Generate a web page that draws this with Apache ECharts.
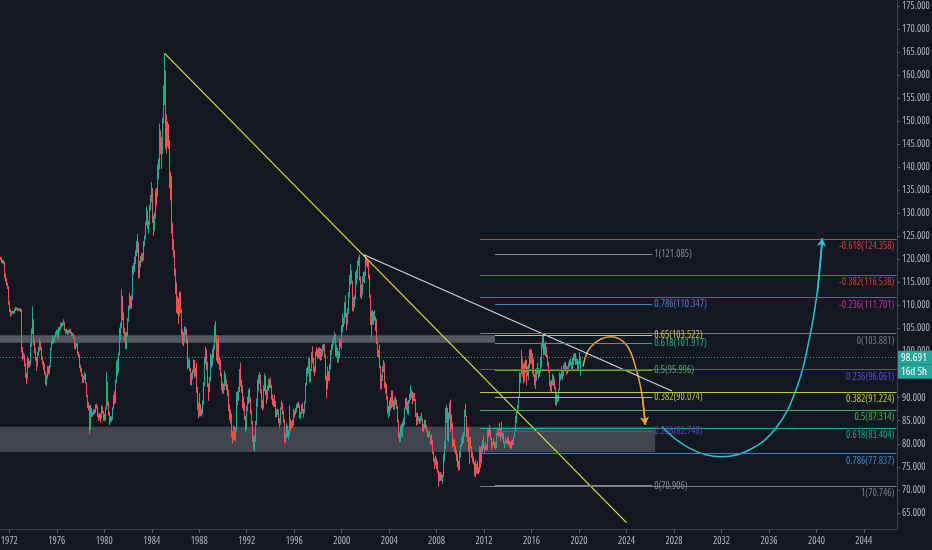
<!DOCTYPE html>
<html><head><meta charset="utf-8">
<script src="https://cdn.jsdelivr.net/npm/echarts@6/dist/echarts.min.js"></script>
<style>html,body{margin:0;padding:0;background:#131722;}#c{width:932px;height:550px;}</style>
</head><body><div id="c"></div>
<script>
// ---------- DATA (monthly candles, Jan 1971 .. Mar 2020) ----------
const firstYear = 1971;
const lastCategory = '2046-10';
const firstOpen = 120.6;
const closes = [
120.5,120.3,120.4,120.3,119.5,119.6,119.3,116.6,115.6,114.7,114.0,110.7,
108.9,108.0,108.6,108.6,108.5,108.9,109.4,109.3,109.1,109.1,109.1,109.1,
109.0,100.5,98.8,99.2,97.3,95.0,94.1,98.2,97.5,97.3,101.5,104.0,
106.8,102.0,100.6,98.5,97.0,99.5,100.3,102.0,100.9,98.6,97.8,97.0,
95.5,93.2,94.5,96.5,95.5,96.7,100.5,101.8,103.0,102.1,103.3,104.0,
104.4,103.2,105.0,104.8,105.8,105.7,105.9,106.3,104.8,104.3,104.6,104.0,
104.4,104.6,104.0,103.7,103.7,103.0,100.8,101.5,101.6,99.6,99.3,96.8,
96.3,95.0,93.7,94.0,95.1,93.3,90.5,88.2,88.0,83.5,87.4,86.5,
86.5,87.0,86.8,88.2,88.0,86.0,85.6,86.2,85.6,87.9,86.9,85.4,
85.4,87.6,93.0,89.0,86.7,84.8,84.7,85.5,85.3,87.6,90.2,89.1,
93.4,96.9,96.2,99.6,104.4,105.2,110.0,108.4,104.6,104.0,101.4,103.8,
106.8,109.5,111.5,110.2,111.6,117.7,118.0,119.6,121.3,122.8,123.5,116.5,
118.9,120.0,120.8,120.2,123.4,124.7,127.6,130.2,127.2,127.8,131.4,133.0,
135.0,128.4,126.4,129.4,134.5,134.0,140.0,140.0,147.6,145.3,143.3,150.2,
155.0,158.0,151.0,146.8,148.8,145.4,136.0,135.4,126.4,123.7,121.4,117.0,
114.5,111.0,110.7,108.3,111.9,109.0,104.1,103.0,102.4,103.8,104.6,102.5,
97.0,97.9,96.3,93.3,94.0,95.5,97.7,95.0,95.9,92.0,88.0,86.6,
90.0,88.4,86.7,86.7,88.9,92.9,98.5,99.0,97.5,92.7,91.4,93.9,
99.0,97.3,100.0,100.6,104.9,103.0,98.6,101.4,98.0,97.8,95.0,92.3,
92.0,92.2,94.1,93.4,92.2,91.5,87.6,86.4,85.8,81.8,81.4,83.0,
81.8,83.0,89.7,90.4,91.6,95.0,93.1,92.4,88.4,88.3,85.7,83.2,
87.6,89.4,91.2,89.9,87.0,84.7,81.1,79.5,80.8,84.6,89.0,92.4,
93.5,94.8,91.7,88.5,88.4,92.0,94.5,91.4,90.0,92.1,93.6,93.2,
92.7,90.4,88.9,89.2,89.1,86.2,86.8,87.3,85.1,84.4,87.5,88.7,
86.9,85.0,81.3,81.5,83.6,82.0,82.3,87.5,84.8,83.8,84.3,84.1,
86.9,86.6,87.4,88.0,88.7,88.2,85.8,86.5,88.0,87.0,86.8,88.9,
92.9,95.3,95.5,98.2,93.8,96.0,99.7,98.5,96.0,95.8,99.7,99.6,
99.9,99.0,100.4,98.6,100.0,100.6,101.5,99.0,94.4,92.0,95.5,94.2,
96.5,100.0,100.9,102.0,102.5,103.6,99.5,100.6,99.0,99.4,102.3,101.9,
105.2,106.6,106.4,110.2,108.2,106.0,108.7,112.6,115.5,117.4,115.3,109.1,
110.1,111.6,116.3,116.6,119.5,119.6,115.9,112.7,113.1,115.9,116.0,116.9,
120.2,119.5,119.2,116.5,112.4,106.4,107.6,107.7,107.5,107.5,106.6,102.0,
99.6,99.4,99.2,96.9,92.1,94.7,95.8,97.4,92.5,92.3,90.2,86.9,
87.4,88.1,88.0,90.2,88.7,88.7,89.7,89.2,87.9,85.1,81.7,80.9,
83.5,82.0,84.3,84.7,87.7,89.2,88.0,86.9,89.2,89.9,91.4,91.2,
89.4,90.6,89.6,86.1,85.2,85.4,85.4,84.8,85.8,85.3,83.1,83.7,
84.8,83.6,82.9,81.6,82.3,81.7,80.3,80.8,78.0,76.5,75.8,76.7,
75.2,74.1,71.8,73.4,72.8,72.5,72.9,77.1,79.3,85.4,86.6,81.3,
86.2,88.5,85.4,84.4,80.0,80.2,78.6,78.3,76.7,76.3,74.8,77.9,
79.5,80.4,81.1,81.8,86.3,86.0,81.6,83.0,78.5,77.1,81.2,79.0,
77.2,76.6,75.9,73.0,74.6,74.3,74.4,74.2,78.6,76.3,78.5,80.2,
79.0,78.6,79.0,78.8,83.0,81.7,82.5,81.2,79.9,79.8,80.1,79.8,
79.2,82.2,83.1,81.8,83.3,83.1,81.5,82.1,80.2,80.2,80.7,80.2,
81.3,79.7,80.1,79.5,80.4,79.8,81.5,82.7,86.0,86.9,88.4,90.3,
94.8,95.3,98.4,94.6,96.9,95.5,97.3,95.8,96.4,96.9,100.2,98.6,
99.6,98.2,94.6,93.1,95.9,96.1,95.5,96.0,95.4,98.4,101.5,102.2,
99.5,101.1,100.4,99.1,97.0,95.6,92.9,92.7,93.1,94.5,93.0,92.1,
89.1,90.6,89.97,91.8,94.0,94.5,94.5,95.1,95.1,97.1,97.3,96.2,
95.6,96.2,97.3,97.5,97.7,96.1,98.5,98.9,99.4,97.3,98.3,96.4,
97.4,98.1,98.691
];
const highs = [
121.0,120.8,120.7,120.6,120.5,119.9,119.9,119.5,117.0,115.9,115.0,114.2,
110.9,109.2,108.8,108.9,108.8,109.3,109.7,109.6,109.5,109.4,109.3,109.4,
109.4,109.2,101.0,99.8,99.4,97.5,95.4,99.0,98.6,98.0,102.0,105.0,
109.8,107.0,102.6,100.8,98.8,100.0,101.0,102.8,102.2,101.0,99.0,98.0,
97.4,95.7,95.0,96.9,96.8,97.0,100.8,102.3,103.5,103.1,103.6,104.3,
104.8,104.6,105.3,105.4,106.3,106.2,106.3,107.0,106.4,104.9,105.0,104.7,
104.7,104.9,104.8,104.3,104.1,103.9,103.2,101.9,101.9,101.8,100.0,99.4,
97.2,96.5,95.2,94.8,95.5,95.3,93.4,90.6,89.0,88.4,88.5,87.8,
87.0,87.4,87.5,88.6,88.7,88.2,86.5,86.6,86.6,88.4,88.1,87.1,
86.5,88.0,95.5,93.4,89.2,86.9,85.6,86.0,85.9,87.9,90.6,91.4,
93.9,97.9,98.4,99.8,105.2,106.3,113.5,112.0,108.5,105.2,104.2,104.3,
107.3,110.0,112.7,112.0,112.2,118.6,119.2,120.6,122.0,124.0,125.5,123.7,
119.7,120.8,121.3,121.4,124.0,125.2,128.2,131.5,130.6,128.5,131.9,134.0,
136.8,135.5,129.6,130.2,135.2,135.5,140.6,141.9,149.5,148.0,146.5,150.8,
157.8,164.72,161.0,151.5,150.0,149.4,146.0,139.0,138.2,128.0,124.4,122.0,
118.0,115.0,112.0,111.6,113.0,113.0,109.2,104.8,104.2,105.4,105.5,104.9,
102.8,98.6,98.3,96.5,95.4,96.0,98.3,98.2,96.6,97.5,92.3,89.0,
91.0,90.4,88.6,87.6,89.4,93.4,98.9,101.0,100.5,97.8,93.1,94.5,
99.6,99.3,100.6,101.3,105.8,106.6,103.6,102.7,103.4,98.9,98.3,95.3,
93.4,93.0,95.8,95.2,94.0,92.9,91.8,88.6,87.4,86.5,82.7,84.0,
83.7,83.6,91.2,91.4,92.4,96.2,97.6,94.0,92.6,90.2,88.9,86.0,
88.2,90.2,91.8,92.1,90.0,87.3,84.9,81.6,81.9,85.0,89.8,94.0,
94.9,95.6,95.0,91.9,89.6,92.7,95.3,94.8,91.8,92.6,94.1,94.0,
94.4,92.8,90.7,89.8,90.6,89.3,87.5,87.6,87.4,85.5,87.9,89.4,
88.9,87.2,85.3,82.2,84.5,83.9,82.9,88.3,88.1,85.4,84.9,85.2,
87.6,87.2,87.8,88.6,89.0,89.1,88.5,86.9,88.5,88.9,87.6,89.2,
93.2,96.4,96.8,98.7,98.5,96.2,99.9,101.2,98.7,96.8,100.0,101.0,
100.6,100.8,101.0,100.8,100.5,101.4,101.7,101.6,99.4,94.8,96.8,95.8,
97.3,100.4,101.6,102.6,103.3,104.3,103.8,101.4,100.8,100.1,102.8,102.5,
105.7,108.2,107.4,110.7,112.2,108.4,109.4,112.9,116.6,119.0,117.6,115.4,
111.8,112.2,117.3,117.8,119.8,120.5,121.02,116.3,114.6,116.4,117.3,117.4,
120.9,120.5,120.1,119.6,116.8,112.4,108.8,109.0,108.6,109.0,107.6,107.0,
102.4,100.4,101.5,99.3,97.0,95.0,96.8,98.2,97.6,93.4,93.0,90.3,
88.2,89.4,90.1,91.6,91.6,89.4,89.9,90.3,89.5,88.2,85.2,82.4,
84.0,84.3,84.8,85.6,87.9,89.9,90.0,89.2,89.5,90.9,92.63,91.8,
91.3,91.1,91.0,89.7,86.7,86.8,86.0,85.6,86.0,86.8,85.5,84.2,
85.2,85.2,84.1,83.0,82.6,82.8,81.8,82.1,80.9,78.3,76.8,77.4,
77.0,76.2,74.3,73.8,73.9,73.5,73.3,77.8,80.5,87.8,88.46,87.8,
86.8,89.0,89.6,86.3,84.6,81.0,80.9,79.6,78.7,77.9,76.3,78.4,
79.8,81.3,82.0,82.6,87.4,88.7,86.1,83.6,83.6,79.2,81.4,81.5,
79.5,78.2,77.2,76.0,76.5,75.7,76.3,74.9,79.5,79.3,79.7,80.8,
81.8,79.6,80.4,79.8,83.2,83.2,84.1,83.0,81.3,80.4,81.2,80.5,
80.3,82.3,83.2,83.2,84.5,83.4,84.75,82.4,82.4,80.6,81.4,81.0,
81.5,81.5,80.7,80.4,80.7,80.9,81.6,82.9,86.1,86.9,88.4,90.3,
95.5,95.4,100.4,98.4,97.4,97.8,98.2,98.3,96.8,97.3,100.5,100.5,
100.5,99.7,98.5,95.1,95.9,96.4,97.6,96.4,96.2,98.7,102.0,103.6,
103.82,101.8,102.2,101.0,99.3,97.8,96.0,93.6,93.9,95.2,94.8,94.2,
92.3,91.0,90.6,91.9,95.0,95.5,95.2,96.9,95.7,97.2,97.7,97.7,
96.9,96.8,97.7,98.3,98.4,97.8,98.7,99.4,99.7,99.67,98.5,98.4,
98.0,99.9,99.0
];
const lows = [
120.1,120.0,120.0,119.9,119.2,119.2,118.9,116.0,115.2,114.3,113.6,110.2,
108.5,107.6,107.8,108.3,108.2,108.2,108.8,109.0,108.8,108.8,108.8,108.8,
108.6,99.8,98.0,98.4,96.8,94.3,93.0,94.0,96.5,96.6,97.0,101.0,
103.8,101.3,99.6,98.0,95.8,96.8,99.0,100.0,100.3,98.2,97.0,96.0,
95.0,92.8,92.5,94.2,95.0,95.2,96.6,100.3,101.6,101.8,102.0,103.0,
103.6,102.8,103.0,104.4,104.6,105.3,105.5,105.7,104.5,103.8,104.0,103.6,
103.7,104.0,103.8,103.3,103.2,102.8,100.6,100.5,101.0,99.3,98.8,96.4,
95.5,94.6,93.2,93.2,93.8,93.1,90.2,87.8,87.2,82.1,83.0,85.8,
85.9,86.3,86.4,86.7,87.6,85.8,84.9,85.3,84.6,85.5,86.6,85.0,
84.9,85.1,87.4,88.2,86.2,84.2,84.1,84.6,84.8,85.2,87.5,88.6,
88.8,93.2,94.8,95.4,99.2,102.5,105.0,106.8,103.9,102.1,100.6,100.5,
103.3,106.4,109.0,109.4,109.3,111.2,116.7,117.3,119.0,120.7,121.4,115.8,
116.0,118.3,119.5,119.5,119.8,122.9,124.4,127.4,126.6,125.6,127.5,130.6,
132.4,127.9,125.1,126.1,128.9,131.7,133.6,137.4,139.5,142.8,139.6,142.9,
149.5,153.5,144.0,143.0,144.5,144.0,135.4,132.8,125.6,122.0,120.4,116.5,
112.5,108.4,108.0,106.0,107.6,108.3,103.6,101.5,101.2,102.0,103.6,101.8,
96.2,96.4,95.8,92.8,92.6,93.9,95.3,94.3,94.6,91.0,87.3,85.6,
85.9,87.8,86.0,85.9,86.4,88.4,92.5,97.2,96.0,92.3,89.3,91.2,
93.6,96.5,96.9,98.7,100.4,102.0,98.0,97.5,97.2,96.0,94.6,91.6,
90.8,90.9,91.7,92.5,91.6,90.4,87.1,85.1,84.5,81.4,80.1,80.8,
80.7,80.6,82.6,88.3,89.3,91.2,92.4,91.0,87.7,87.1,85.1,82.6,
82.9,87.0,88.6,89.0,86.4,84.2,80.4,78.7,78.19,80.4,84.0,88.0,
91.4,93.0,90.9,87.7,87.2,87.6,91.4,90.6,88.7,89.6,91.5,92.1,
92.0,89.6,88.4,88.0,88.0,85.7,85.8,86.3,84.5,83.4,84.1,87.4,
86.3,84.5,80.3,80.05,81.2,81.5,81.0,81.8,84.3,82.8,83.3,83.5,
84.0,85.7,86.3,86.8,87.7,87.8,85.5,85.5,86.4,86.6,85.7,86.6,
88.8,92.6,94.6,95.2,93.3,93.4,95.8,97.5,95.5,94.7,95.5,99.0,
98.5,98.5,98.4,98.0,98.2,99.0,100.1,98.7,93.8,89.9,91.8,93.6,
93.6,96.0,99.3,100.4,101.4,101.9,99.0,98.9,97.5,97.7,98.6,100.9,
100.5,104.2,105.3,106.0,107.4,104.6,105.7,108.2,111.7,114.4,114.8,108.7,
108.8,109.6,111.3,114.5,115.8,118.6,115.4,111.7,111.3,112.4,115.1,114.8,
116.4,118.6,118.2,115.8,111.6,105.8,102.8,105.8,105.8,106.7,104.5,101.6,
98.9,98.7,98.3,96.4,91.8,91.8,93.6,95.6,92.1,90.9,89.6,86.6,
85.6,86.0,87.2,87.7,88.0,87.4,87.4,88.4,87.6,84.7,81.2,80.39,
80.4,81.6,81.4,83.5,84.1,87.6,87.2,86.4,86.3,88.8,89.5,89.9,
88.6,89.3,89.2,85.8,84.0,84.2,84.9,84.3,84.5,85.0,82.7,82.5,
83.3,83.2,82.5,81.3,81.4,81.5,79.8,79.8,77.8,76.1,74.5,75.4,
74.5,73.7,70.7,71.8,72.0,71.9,71.3,72.8,76.1,78.9,84.5,80.7,
80.3,85.3,82.6,83.1,79.1,79.4,78.2,77.7,76.3,74.9,74.2,74.3,
77.1,79.3,79.8,80.1,81.6,85.8,81.4,80.4,78.4,75.6,75.6,78.9,
76.9,75.9,75.5,72.9,72.7,73.5,73.4,73.4,73.8,74.8,75.9,78.2,
78.9,77.9,78.5,78.6,78.6,81.4,81.7,80.9,78.6,79.3,79.7,79.0,
78.9,79.1,81.8,81.4,81.6,80.5,81.4,81.0,80.0,79.0,80.2,79.8,
79.9,79.6,79.3,78.9,78.9,79.7,79.8,81.4,82.6,84.5,86.8,87.6,
90.0,93.2,95.1,94.5,93.1,93.5,95.4,92.6,94.6,93.8,96.4,97.2,
97.4,95.2,94.5,92.6,91.9,93.6,95.1,94.1,94.5,95.3,96.6,100.6,
99.2,99.2,99.0,98.8,96.8,95.5,92.5,91.4,91.0,92.7,92.5,91.8,
88.4,88.25,88.9,89.2,91.6,93.2,93.7,94.1,93.8,94.8,95.7,96.0,
95.0,95.2,95.7,96.7,97.0,95.8,95.8,97.1,98.0,97.1,97.2,96.2,
95.8,97.3,94.65
];

// Axis tick labels
const yTicks = [65,70,75,80,85,90,95,100,105,110,115,120,125,130,135,140,145,150,155,160,165,170,175];
const xLabelEveryYears = 4;

// Fibonacci retracement #1 (labels right of line end)
const fib1Levels = ['1','0.786','0.65','0.618','0.5','0.382','0.236','0'];
const fib1Prices = [121.085,110.347,103.522,101.917,95.996,90.074,82.748,70.906];
const fib1Span = ['2012-12','2026-03'];
// Fibonacci #2 (extension, labels right-aligned below line)
const fib2Levels = ['-0.618','-0.382','-0.236','0','0.236','0.382','0.5','0.618','0.786','1'];
const fib2Prices = [124.358,116.538,111.701,103.881,96.061,91.224,87.314,83.404,77.837,70.746];
const fib2Span = ['2011-09','2046-10'];

// Zones (price bands)
const zoneLow  = [101.917, 78.2];
const zoneHigh = [103.522, 83.7];
const zoneStart = ['1971-01','1971-01'];
const zoneEnd   = ['2012-12','2026-06'];

// Trend lines
const trendYellow = [['1985-02',164.72],['2024-01',62.9]];
const trendWhite  = [['2001-11',121.085],['2027-11',91.45]];

// Projection arrows
const arcOrange = [['2020-05',96.72],['2021-01',101.06],['2022-09',103.23],['2024-01',101.43],['2024-11',96.0],['2025-05',90.21],['2025-08',84.07]];
const arcCyan = [['2027-01',83.57],['2029-05',79.01],['2032-02',77.19],['2034-05',78.64],['2036-08',83.35],['2038-05',92.03],['2039-06',102.88],['2040-02',113.0],['2040-07',124.58]];

const lastPrice = 98.691;
const countdown = '16d 5h';

// ---------- STYLES ----------
// 'condensed' goes into the canvas font shorthand (font-stretch) -> narrow Open Sans
const TXT = { fontFamily: "'Open Sans'", fontStyle: 'normal', fontWeight: 'condensed' };
const fib1Colors = ['#868993','#3f83c6','#c5c93c','#26ad8f','#4caf50','#b6c23a','#5a4cbe','#868993'];
const fib2Colors = ['#e0383e','#c8432f','#b23a8e','#787b86','#5b4bc4','#c2c93a','#4caf50','#26a69a','#3f83c6','#787b86'];

// ---------- BUILD ----------
const categories = [];
outer: for (let y = firstYear; ; y++) {
  for (let m = 1; m <= 12; m++) {
    const c = y + '-' + String(m).padStart(2, '0');
    categories.push(c);
    if (c === lastCategory) break outer;
  }
}
const candleData = closes.map((c, i) => [i === 0 ? firstOpen : closes[i - 1], c, lows[i], highs[i]]);

const showYearLabel = (idx, val) => {
  const s = typeof val === 'string' ? val : categories[idx];
  return s.slice(5) === '01' && (parseInt(s.slice(0, 4)) % xLabelEveryYears === 0);
};

const fib1Data = fib1Levels.map((lv, i) => [
  { coord: [fib1Span[0], fib1Prices[i]], lineStyle: { color: fib1Colors[i], width: 1, type: 'solid' },
    label: Object.assign({ show: true, position: 'end', distance: 2, color: fib1Colors[i], fontSize: 10,
             formatter: lv + '(' + fib1Prices[i].toFixed(3) + ')' }, TXT) },
  { coord: [fib1Span[1], fib1Prices[i]] }
]);
const fib2Data = fib2Levels.map((lv, i) => [
  { coord: [fib2Span[0], fib2Prices[i]], lineStyle: { color: fib2Colors[i], width: 1, type: 'solid' },
    label: Object.assign({ show: true, position: 'insideEndBottom', distance: 2, color: fib2Colors[i], fontSize: 10,
             formatter: lv + '(' + fib2Prices[i].toFixed(3) + ')' }, TXT) },
  { coord: [fib2Span[1], fib2Prices[i]] }
]);
const zoneData = zoneLow.map((lo, i) => [
  { coord: [zoneStart[i], zoneHigh[i]], itemStyle: { color: i === 0 ? 'rgba(165,168,178,0.45)' : 'rgba(130,133,144,0.42)' } },
  { coord: [zoneEnd[i], lo] }
]);

function arrowSeries(name, pts, color) {
  const n = pts.length;
  return {
    name, type: 'line', data: pts, smooth: 0.4, showSymbol: false, symbol: 'none', z: 4,
    lineStyle: { color, width: 1.5 }, silent: true,
    markLine: {
      silent: true, animation: false, symbol: ['none', 'arrow'], symbolSize: [7, 8],
      label: { show: false },
      lineStyle: { color, width: 1.5, type: 'solid' },
      data: [[{ coord: pts[n - 2] }, { coord: pts[n - 1] }]]
    }
  };
}

const tagStyle = Object.assign({ backgroundColor: '#26a69a', color: '#ffffff', fontSize: 11, height: 14, lineHeight: 14, width: 29, padding: [0, 3] }, TXT);

const chart = echarts.init(document.getElementById('c'));
chart.setOption({
  backgroundColor: '#131722',
  animation: false,
  textStyle: TXT,
  grid: { left: -3, right: 35, top: 0, bottom: 21, containLabel: false, outerBoundsMode: 'none' },
  xAxis: {
    type: 'category', data: categories, boundaryGap: true,
    axisLine: { show: true, lineStyle: { color: '#3d414d' } },
    axisTick: { show: true, interval: showYearLabel, alignWithLabel: true, length: 4, lineStyle: { color: '#55586a' } },
    axisLabel: Object.assign({ interval: showYearLabel, formatter: v => v.slice(0, 4), color: '#b2b5be', fontSize: 10, margin: 7 }, TXT),
    splitLine: { show: false }
  },
  yAxis: {
    type: 'value', position: 'right', min: 61.5, max: 176.3, scale: true,
    axisLine: { show: true, lineStyle: { color: '#3d414d' } },
    axisTick: { show: true, customValues: yTicks, length: 3, lineStyle: { color: '#55586a' } },
    axisLabel: Object.assign({ customValues: yTicks, formatter: v => Number(v).toFixed(3), color: '#b2b5be', fontSize: 10, margin: 5 }, TXT),
    splitLine: { show: false }
  },
  series: [
    {
      name: 'DXY', type: 'candlestick', data: candleData, barWidth: '80%', z: 2,
      itemStyle: { color: '#26a69a', color0: '#ef5350', borderColor: '#26a69a', borderColor0: '#ef5350', borderWidth: 1 },
      markArea: { silent: true, data: zoneData },
      markLine: {
        silent: true, animation: false, symbol: ['none', 'none'],
        lineStyle: { color: '#26a69a', type: [1, 2], width: 1 },
        data: [{ yAxis: lastPrice }],
        label: Object.assign({
          show: true, position: 'end', distance: 1,
          formatter: '{e| }\n{p|' + lastPrice.toFixed(3) + '}\n{t|' + countdown + '}',
          rich: {
            e: { height: 14, lineHeight: 14, fontSize: 10 },
            p: tagStyle,
            t: tagStyle
          }
        }, TXT)
      }
    },
    {
      name: 'trend', type: 'line', data: [], z: 3,
      markLine: {
        silent: true, animation: false, symbol: ['none', 'none'], label: { show: false },
        data: [
          [{ coord: trendYellow[0], lineStyle: { color: '#dfe03a', width: 1.2, type: 'solid' } }, { coord: trendYellow[1] }],
          [{ coord: trendWhite[0], lineStyle: { color: '#d1d4dc', width: 1.2, type: 'solid' } }, { coord: trendWhite[1] }]
        ]
      }
    },
    { name: 'fib1', type: 'line', data: [], z: 3,
      markLine: { silent: true, animation: false, symbol: ['none', 'none'], data: fib1Data } },
    { name: 'fib2', type: 'line', data: [], z: 3,
      markLine: { silent: true, animation: false, symbol: ['none', 'none'], data: fib2Data } },
    arrowSeries('orange', arcOrange, '#f0a030'),
    arrowSeries('cyan', arcCyan, '#22c3d3')
  ]
});
</script>
</body></html>
